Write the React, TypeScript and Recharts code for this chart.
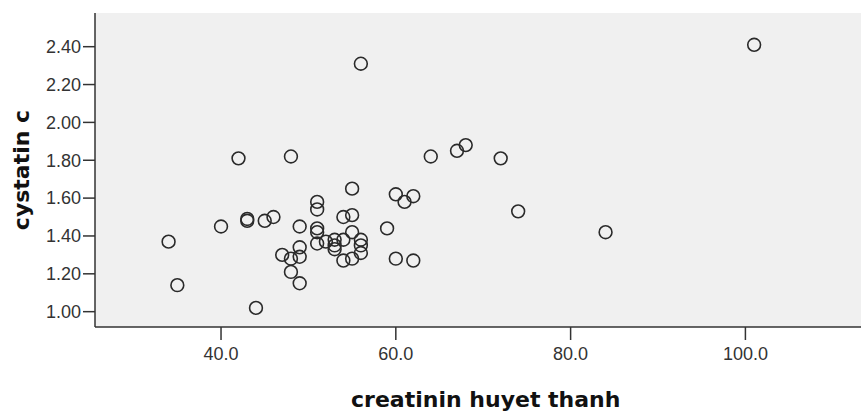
import React from "react";
import { ScatterChart, Scatter, XAxis, YAxis, CartesianGrid } from "recharts";

const creatinine = [34, 35, 40, 42, 43, 43, 44, 45, 46, 47, 48, 48, 48, 49, 49, 49, 49, 51, 51, 51, 51, 51, 52, 53, 53, 53, 54, 54, 54, 55, 55, 55, 55, 56, 56, 56, 56, 59, 60, 60, 61, 62, 62, 64, 67, 68, 72, 74, 84, 101];
const cystatin = [1.37, 1.14, 1.45, 1.81, 1.48, 1.49, 1.02, 1.48, 1.5, 1.3, 1.82, 1.28, 1.21, 1.45, 1.34, 1.29, 1.15, 1.58, 1.54, 1.44, 1.42, 1.36, 1.37, 1.38, 1.35, 1.33, 1.5, 1.38, 1.27, 1.65, 1.51, 1.42, 1.28, 2.31, 1.38, 1.35, 1.31, 1.44, 1.62, 1.28, 1.58, 1.61, 1.27, 1.82, 1.85, 1.88, 1.81, 1.53, 1.42, 2.41];
const xTicks = [40, 60, 80, 100];
const yTicks = [1.0, 1.2, 1.4, 1.6, 1.8, 2.0, 2.2, 2.4];
const xTitle = "creatinin huyet thanh";
const yTitle = "cystatin c";

const data = creatinine.map((x, i) => ({ x, y: cystatin[i] }));

const tickStyle = { fontFamily: "'Liberation Sans', Arial, sans-serif", fontSize: 18, fill: "#333" };
const titleStyle = { fontFamily: "'DejaVu Sans', sans-serif", fontSize: 22, fontWeight: "bold", fill: "#111" };

const Ring = (props: any) => (
  <circle cx={props.cx} cy={props.cy} r={6.4} fill="none" stroke="#2a2a2a" strokeWidth={1.6} />
);

export default function App() {
  return (
    <div style={{ position: "absolute", left: 0, top: 0, width: 861, height: 412, overflow: "hidden", background: "#fff" }}>
      <ScatterChart width={900} height={412} margin={{ top: 13, right: 23.5, bottom: 0, left: 0 }}>
        <CartesianGrid fill="#f0f0f0" horizontal={false} vertical={false} />
        <XAxis
          xAxisId="top"
          orientation="top"
          type="number"
          dataKey="x"
          domain={[25.58, 115]}
          height={0}
          tick={false}
          tickLine={false}
          axisLine={{ stroke: "#333", strokeWidth: 1.2 }}
          allowDataOverflow
        />
        <XAxis
          type="number"
          dataKey="x"
          domain={[25.58, 115]}
          ticks={xTicks}
          tickFormatter={(v: number) => v.toFixed(1)}
          height={85}
          tickSize={13}
          tickMargin={7}
          tick={tickStyle}
          tickLine={{ stroke: "#333", strokeWidth: 1.5 }}
          axisLine={{ stroke: "#333", strokeWidth: 1.5 }}
          allowDataOverflow
          label={{ value: xTitle, position: "insideBottom", offset: 5, style: titleStyle }}
        />
        <YAxis
          type="number"
          dataKey="y"
          domain={[0.919, 2.578]}
          ticks={yTicks}
          tickFormatter={(v: number) => v.toFixed(2)}
          width={95}
          tickSize={12}
          tickMargin={2}
          tick={tickStyle}
          tickLine={{ stroke: "#333", strokeWidth: 1.5 }}
          axisLine={{ stroke: "#333", strokeWidth: 1.5 }}
          allowDataOverflow
          label={{ value: yTitle, angle: -90, position: "insideLeft", offset: 21, style: { ...titleStyle, textAnchor: "middle" } }}
        />
        <Scatter data={data} shape={Ring} isAnimationActive={false} />
      </ScatterChart>
    </div>
  );
}
